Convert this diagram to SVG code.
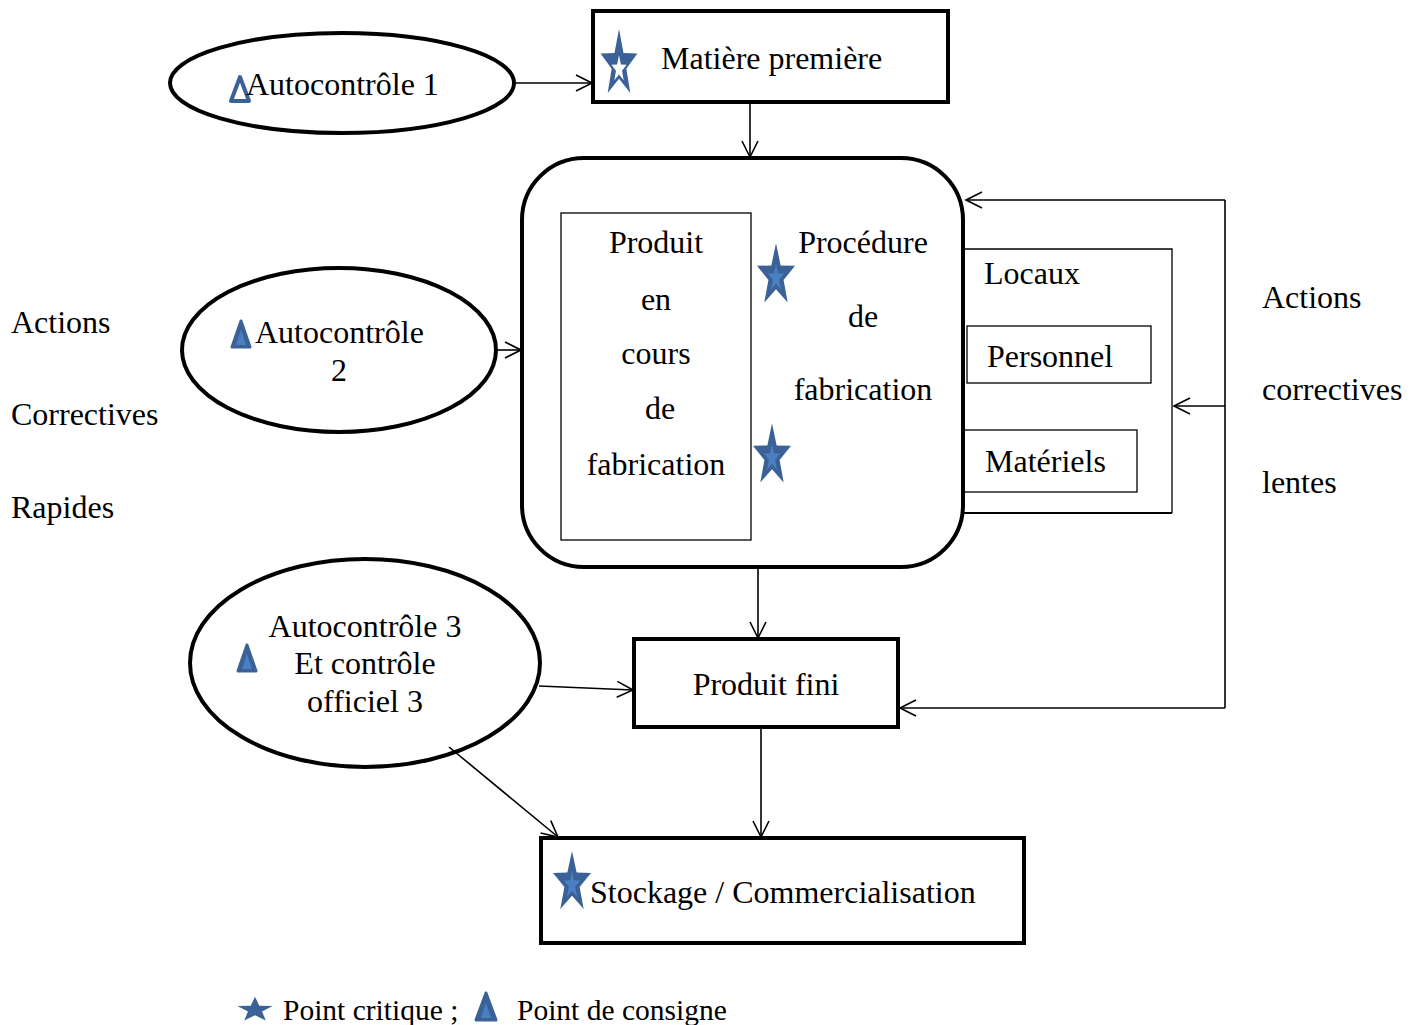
<svg xmlns="http://www.w3.org/2000/svg" xmlns:xlink="http://www.w3.org/1999/xlink" width="1417" height="1025" viewBox="0 0 1417 1025">
<style>
text{font-family:"Liberation Serif","Times New Roman",serif;font-size:32px;fill:#000}
text.leg{font-size:29.5px}
.thick{fill:none;stroke:#000;stroke-width:4}
.thin{fill:none;stroke:#000;stroke-width:1.3}
.con{fill:none;stroke:#000;stroke-width:1.6}
.star{fill:#3b6296}
.starin{fill:#4a7fc1}
.tri{fill:#3b6296;stroke:#3b6296;stroke-width:3;stroke-linejoin:round}
.triin{fill:#4a7fc1}
</style>
<defs>
<path id="star" d="M0,-36.5 L4.9,-11.8 L20,-11.3 L8,4.5 L12.3,29.5 L0,14.6 L-12.3,29.5 L-8,4.5 L-20,-11.3 L-4.9,-11.8 Z"/>
<marker id="arr" markerWidth="20" markerHeight="20" refX="18" refY="10" orient="auto" markerUnits="userSpaceOnUse">
<path d="M2,2 L18,10 L2,18" fill="none" stroke="#000" stroke-width="1.6"/>
</marker>
</defs>
<rect width="1417" height="1025" fill="#fff"/>

<g id="connectors">
<line class="con" x1="514" y1="83" x2="592" y2="83" marker-end="url(#arr)"/>
<line class="con" x1="750" y1="102" x2="750" y2="157" marker-end="url(#arr)"/>
<line class="con" x1="496" y1="350" x2="521" y2="350" marker-end="url(#arr)"/>
<line class="con" x1="758" y1="567" x2="758" y2="638" marker-end="url(#arr)"/>
<line class="con" x1="539" y1="686" x2="633" y2="690" marker-end="url(#arr)"/>
<line class="con" x1="449" y1="747" x2="558" y2="837" marker-end="url(#arr)"/>
<line class="con" x1="761" y1="727" x2="761" y2="837" marker-end="url(#arr)"/>
<line class="con" x1="1225" y1="200" x2="1225" y2="708"/>
<line class="con" x1="1225" y1="200" x2="966" y2="200" marker-end="url(#arr)"/>
<line class="con" x1="1225" y1="406" x2="1174" y2="406" marker-end="url(#arr)"/>
<line class="con" x1="1225" y1="708" x2="900" y2="708" marker-end="url(#arr)"/>
</g>

<g id="autocontrole1">
<ellipse class="thick" cx="342" cy="83" rx="172" ry="50"/>
<path d="M240,77 L249,101 L231,101 Z" fill="#fff" stroke="#3b6296" stroke-width="4" stroke-linejoin="round"/>
<text x="246" y="95">Autocontrôle 1</text>
</g>

<g id="matiere">
<rect class="thick" x="593" y="11" width="355" height="91"/>
<use href="#star" class="star" transform="translate(619,64.5) scale(0.92,0.97)"/>
<use href="#star" fill="#fff" transform="translate(619,69) scale(0.38,0.38)"/>
<text x="661" y="69">Matière première</text>
</g>

<g id="procede">
<rect class="thick" x="522" y="158" width="441" height="409" rx="62" ry="62"/>
<rect class="thin" x="561" y="213" width="190" height="327"/>
<text x="656" y="253" text-anchor="middle">Produit</text>
<text x="656" y="310" text-anchor="middle">en</text>
<text x="656" y="364" text-anchor="middle">cours</text>
<text x="660" y="419" text-anchor="middle">de</text>
<text x="656" y="475" text-anchor="middle">fabrication</text>
<text x="863" y="253" text-anchor="middle">Procédure</text>
<text x="863" y="327" text-anchor="middle">de</text>
<text x="863" y="400" text-anchor="middle">fabrication</text>
<use href="#star" class="star" transform="translate(776,276) scale(0.95,0.9)"/>
<use href="#star" class="starin" transform="translate(776,278) scale(0.4,0.4)"/>
<use href="#star" class="star" transform="translate(772,456) scale(0.95,0.9)"/>
<use href="#star" class="starin" transform="translate(772,458) scale(0.4,0.4)"/>
</g>

<g id="locaux">
<path class="thin" d="M963,249 L1172,249 L1172,513"/>
<line x1="963" y1="513" x2="1172" y2="513" stroke="#000" stroke-width="2"/>
<text x="984" y="284">Locaux</text>
</g>
<g id="personnel">
<rect class="thin" x="967" y="326" width="184" height="57"/>
<text x="987" y="367">Personnel</text>
</g>
<g id="materiels">
<rect class="thin" x="963" y="430" width="174" height="62"/>
<text x="985" y="472">Matériels</text>
</g>

<g id="autocontrole2">
<ellipse class="thick" cx="339" cy="350" rx="157" ry="82"/>
<path class="tri" d="M241,321 L250,347 L232,347 Z"/>
<path class="triin" d="M241,330 L246,345 L236,345 Z"/>
<text x="255" y="343">Autocontrôle</text>
<text x="339" y="381" text-anchor="middle">2</text>
</g>

<g id="autocontrole3">
<ellipse class="thick" cx="365" cy="663" rx="175" ry="104"/>
<path class="tri" d="M247,645 L256,671 L238,671 Z"/>
<path class="triin" d="M247,654 L252,669 L242,669 Z"/>
<text x="365" y="637" text-anchor="middle">Autocontrôle 3</text>
<text x="365" y="674" text-anchor="middle">Et contrôle</text>
<text x="365" y="712" text-anchor="middle">officiel 3</text>
</g>

<g id="produitfini">
<rect class="thick" x="634" y="639" width="264" height="88"/>
<text x="766" y="695" text-anchor="middle">Produit fini</text>
</g>

<g id="stockage">
<rect class="thick" x="541" y="838" width="483" height="105"/>
<use href="#star" class="star" transform="translate(572,883) scale(0.95,0.88)"/>
<use href="#star" class="starin" transform="translate(572,885) scale(0.4,0.4)"/>
<text x="590" y="903">Stockage / Commercialisation</text>
</g>

<g id="actions-rapides">
<text x="11" y="333">Actions</text>
<text x="11" y="425">Correctives</text>
<text x="11" y="518">Rapides</text>
</g>
<g id="actions-lentes">
<text x="1262" y="308">Actions</text>
<text x="1262" y="400">correctives</text>
<text x="1262" y="493">lentes</text>
</g>

<g id="legende">
<use href="#star" class="star" transform="translate(255,1010) scale(0.88,0.36)"/>
<text class="leg" x="283" y="1020">Point critique ;</text>
<path class="tri" d="M486,993 L496,1020 L476,1020 Z"/>
<path class="triin" d="M486,1003 L491,1018 L481,1018 Z"/>
<text class="leg" x="517" y="1020">Point de consigne</text>
</g>
</svg>
